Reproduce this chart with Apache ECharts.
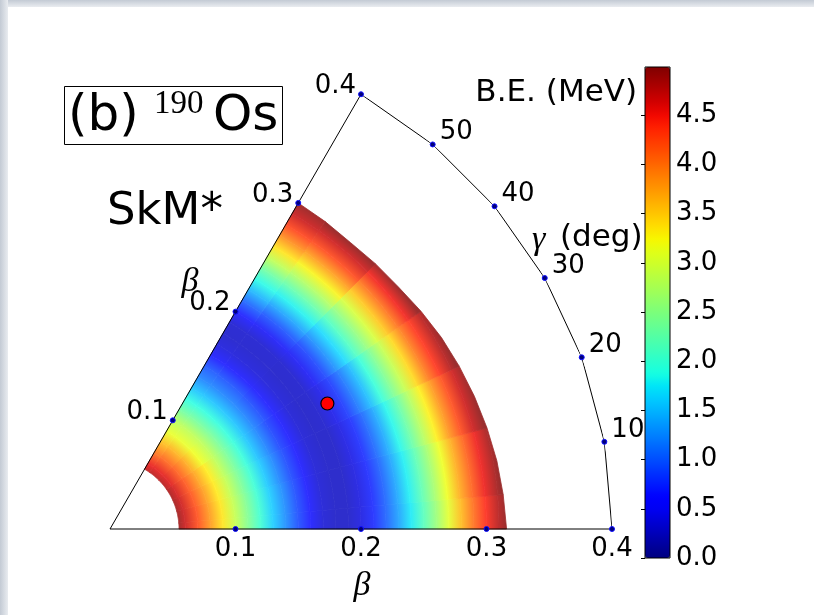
<!DOCTYPE html>
<html>
<head>
<meta charset="utf-8">
<script src="https://cdn.jsdelivr.net/npm/echarts@6/dist/echarts.min.js"></script>
<style>
html, body { margin: 0; padding: 0; background: #fff; }
#edgeTop { position: absolute; left: 0; top: 0; width: 814px; height: 7px; background: linear-gradient(#c3cad4, #e9ecf0); }
#edgeLeft { position: absolute; left: 0; top: 0; width: 8px; height: 615px; background: linear-gradient(90deg, #c3cad4, #e9ecf0); }
#chart { position: absolute; left: 0; top: 0; width: 814px; height: 615px; }
</style>
</head>
<body>
<div id="edgeTop"></div>
<div id="edgeLeft"></div>
<div id="chart"></div>
<script>
// rays of the beta-gamma plane (deg) and beta samples along each ray
const gammaDeg = [0, 10, 20, 30, 40, 50, 60];
const betaSamples = [0.055, 0.06, 0.07, 0.08, 0.09, 0.10, 0.11, 0.12, 0.13, 0.14, 0.15, 0.16, 0.17, 0.18,
  0.19, 0.20, 0.21, 0.22, 0.23, 0.24, 0.25, 0.26, 0.27, 0.28, 0.29, 0.30, 0.31];

// B.E. (MeV) read along each ray, starting at beta = 0.055
const energyG0 = [4.9, 4.7, 4.25, 3.8, 3.35, 2.9, 2.45, 2.0, 1.6, 1.25, 0.9, 0.55, 0.35, 0.28, 0.28, 0.4, 0.7, 1.0, 1.35, 1.75, 2.15, 2.6, 3.1, 3.6, 4.05, 4.45, 4.8];
const energyG10 = [4.9, 4.7, 4.25, 3.8, 3.35, 2.9, 2.45, 2.0, 1.6, 1.25, 0.9, 0.55, 0.35, 0.28, 0.28, 0.4, 0.7, 1.0, 1.37, 1.78, 2.2, 2.67, 3.18, 3.68, 4.12, 4.52, 4.87];
const energyG20 = [4.88, 4.68, 4.22, 3.78, 3.32, 2.88, 2.42, 1.98, 1.58, 1.22, 0.88, 0.55, 0.35, 0.28, 0.28, 0.42, 0.72, 1.03, 1.4, 1.83, 2.28, 2.78, 3.28, 3.8, 4.25, 4.68];
const energyG30 = [4.85, 4.65, 4.2, 3.75, 3.3, 2.85, 2.4, 1.95, 1.55, 1.2, 0.86, 0.55, 0.35, 0.28, 0.3, 0.45, 0.78, 1.12, 1.5, 1.95, 2.42, 2.9, 3.42, 3.95, 4.4, 4.8];
const energyG40 = [4.8, 4.6, 4.15, 3.7, 3.2, 2.85, 2.38, 1.93, 1.55, 1.2, 0.9, 0.56, 0.36, 0.29, 0.31, 0.5, 0.85, 1.25, 1.67, 2.1, 2.55, 3.02, 3.52, 4.02, 4.5];
const energyG50 = [4.78, 4.57, 4.1, 3.65, 3.15, 2.85, 2.37, 1.92, 1.55, 1.2, 0.93, 0.57, 0.37, 0.3, 0.32, 0.52, 0.92, 1.36, 1.8, 2.25, 2.75, 3.25, 3.77, 4.27, 4.68];
const energyG60 = [4.75, 4.55, 4.05, 3.6, 3.15, 2.85, 2.35, 1.9, 1.55, 1.2, 0.95, 0.58, 0.38, 0.3, 0.32, 0.55, 1.0, 1.45, 1.85, 2.3, 2.85, 3.35, 3.85, 4.3, 4.7];
const energyByGamma = [energyG0, energyG10, energyG20, energyG30, energyG40, energyG50, energyG60];

// outer edge of the computed region on each ray
const betaEdge = [0.316, 0.313, 0.309, 0.305, 0.300, 0.298, 0.300];
const energyEdge = [4.97, 4.97, 4.97, 4.97, 4.97, 4.97, 4.95];

const minimumPoint = [0.2, 30];
const betaTicks = [0.1, 0.2, 0.3, 0.4];
const gammaTicks = [10, 20, 30, 40, 50];
const frameGamma = [0, 10, 20, 30, 40, 50, 60];
const E_MAX = 4.99;

const SANS = "'DejaVu Sans', sans-serif";
const SERIF = "'Liberation Serif', serif";

// matplotlib jet
function jet(t) {
  t = Math.max(0, Math.min(1, t));
  const seg = pts => {
    for (let i = 0; i < pts.length - 1; i++) {
      if (t <= pts[i + 1][0]) {
        const f = (t - pts[i][0]) / (pts[i + 1][0] - pts[i][0]);
        return pts[i][1] + f * (pts[i + 1][1] - pts[i][1]);
      }
    }
    return pts[pts.length - 1][1];
  };
  return [
    seg([[0, 0], [0.35, 0], [0.66, 1], [0.89, 1], [1, 0.5]]),
    seg([[0, 0], [0.125, 0], [0.375, 1], [0.64, 1], [0.91, 0], [1, 0]]),
    seg([[0, 0.5], [0.11, 1], [0.34, 1], [0.65, 0], [1, 0]])
  ];
}
const toRgb = (c, a) => 'rgb(' + c.map(v => Math.round(255 * (a * v + 1 - a))).join(',') + ')';
// surface is drawn semi-transparent over white
const shade = e => toRgb(jet(e / E_MAX), 0.82);
const jetColors = Array.from({ length: 41 }, (_, i) => toRgb(jet(i / 40), 1));

// band items: [beta0, gamma, beta1, E0, E1, rayIndex, isLast]
const bands = [];
gammaDeg.forEach((g, j) => {
  const vals = energyByGamma[j];
  const pts = vals.map((e, k) => [betaSamples[k], e]).concat([[betaEdge[j], energyEdge[j]]]);
  for (let k = 0; k < pts.length - 1; k++) {
    bands.push([pts[k][0], g, pts[k + 1][0], pts[k][1], pts[k + 1][1], j, k === pts.length - 2 ? 1 : 0]);
  }
});

function renderBand(params, api) {
  const b0 = api.value(0), g = api.value(1), b1 = api.value(2);
  const e0 = api.value(3), e1 = api.value(4), j = api.value(5), last = api.value(6);
  const gLo = Math.max(0, g - 5), gHi = Math.min(60, g + 5);
  const c = api.coord([0, 0]);
  const dist = p => Math.hypot(p[0] - c[0], p[1] - c[1]);
  const R0 = dist(api.coord([b0, g]));
  const R1 = dist(api.coord([b1, g]));
  const pts = [];
  for (let a = gLo; a <= gHi + 1e-9; a += 1) pts.push(api.coord([b0, a]));
  if (last) {
    const lo = j > 0 ? (betaEdge[j - 1] + betaEdge[j]) / 2 : betaEdge[j];
    const hi = j < gammaDeg.length - 1 ? (betaEdge[j + 1] + betaEdge[j]) / 2 : betaEdge[j];
    pts.push(api.coord([hi, gHi]));
    pts.push(api.coord([b1, g]));
    pts.push(api.coord([lo, gLo]));
  } else {
    for (let a = gHi; a >= gLo - 1e-9; a -= 1) pts.push(api.coord([b1, a]));
  }
  const fill = new echarts.graphic.RadialGradient(c[0], c[1], R1, [
    { offset: R0 / R1, color: shade(e0) },
    { offset: 1, color: shade(e1) }
  ], true);
  return {
    type: 'polygon',
    shape: { points: pts },
    style: { fill: fill, stroke: fill, lineWidth: 0.8 }
  };
}

const framePts = [[0, 0]].concat(frameGamma.map(g => [0.4, g])).concat([[0, 60]]);
const dotStyle = { color: '#00007a', borderColor: '#1010ff', borderWidth: 1, opacity: 1 };
const tickLabel = { show: true, fontSize: 26, color: '#000', opacity: 1, fontFamily: SANS };

const chart = echarts.init(document.getElementById('chart'));
chart.setOption({
  animation: false,
  textStyle: { fontFamily: SANS },
  polar: { center: [110, 529], radius: 502 },
  angleAxis: {
    type: 'value', min: 0, max: 360, startAngle: 0, clockwise: false,
    axisLine: { show: false }, axisTick: { show: false }, axisLabel: { show: false }, splitLine: { show: false }
  },
  radiusAxis: {
    type: 'value', min: 0, max: 0.4,
    axisLine: { show: false }, axisTick: { show: false }, axisLabel: { show: false }, splitLine: { show: false }
  },
  grid: {
    left: 645, top: 67, width: 25, height: 491, show: true,
    borderColor: '#000', borderWidth: 1, backgroundColor: 'transparent', z: 10
  },
  xAxis: { gridIndex: 0, type: 'value', min: 0, max: 1, show: false },
  yAxis: {
    gridIndex: 0, type: 'value', min: 0, max: E_MAX, interval: 0.5, position: 'right', z: 10,
    axisLine: { show: false },
    axisTick: { show: true, inside: true, length: 4, lineStyle: { color: '#000', width: 1 } },
    axisLabel: { fontSize: 26, color: '#000', margin: 6, fontFamily: SANS, showMaxLabel: false, formatter: v => v.toFixed(1) },
    splitLine: { show: false }
  },
  visualMap: {
    type: 'continuous', min: 0, max: E_MAX, seriesIndex: 0, dimension: 3,
    left: 645, top: 67, itemWidth: 25, itemHeight: 491, padding: 0,
    calculable: false, hoverLink: false, text: null,
    inRange: { color: jetColors }
  },
  graphic: [
    { type: 'rect', shape: { x: 64.5, y: 86.5, width: 218, height: 58 }, style: { fill: 'none', stroke: '#000', lineWidth: 1 } },
    { type: 'text', x: 68, y: 117, style: { text: '(b)', font: '50px ' + SANS, fill: '#000', textVerticalAlign: 'middle' } },
    { type: 'text', x: 154, y: 104, style: { text: '190', font: '33px ' + SERIF, fill: '#000', textVerticalAlign: 'middle' } },
    { type: 'text', x: 213, y: 117, style: { text: 'Os', font: '50px ' + SANS, fill: '#000', textVerticalAlign: 'middle' } },
    { type: 'text', x: 107, y: 212, style: { text: 'SkM*', font: '45px ' + SANS, fill: '#000', textVerticalAlign: 'middle' } },
    { type: 'text', x: 637, y: 93, style: { text: 'B.E. (MeV)', font: '31px ' + SANS, fill: '#000', textAlign: 'right', textVerticalAlign: 'middle' } },
    { type: 'text', x: 532, y: 240, style: { text: 'γ', font: 'italic 34px ' + SERIF, fill: '#000', textVerticalAlign: 'middle' } },
    { type: 'text', x: 560, y: 238, style: { text: '(deg)', font: '31px ' + SANS, fill: '#000', textVerticalAlign: 'middle' } },
    { type: 'text', x: 190, y: 282, style: { text: 'β', font: 'italic 34px ' + SERIF, fill: '#000', textAlign: 'center', textVerticalAlign: 'middle' } },
    { type: 'text', x: 362, y: 586, style: { text: 'β', font: 'italic 34px ' + SERIF, fill: '#000', textAlign: 'center', textVerticalAlign: 'middle' } }
  ],
  series: [
    {
      type: 'custom', coordinateSystem: 'polar', data: bands, renderItem: renderBand, z: 1, silent: true
    },
    {
      type: 'line', coordinateSystem: 'polar', data: framePts, symbol: 'none', z: 3, silent: true,
      lineStyle: { color: '#000', width: 1 }
    },
    {
      type: 'scatter', coordinateSystem: 'polar', data: betaTicks.map(b => [b, 0]), symbolSize: 5, z: 4, silent: true,
      itemStyle: dotStyle,
      label: Object.assign({ position: 'bottom', distance: 4, formatter: p => p.value[0].toFixed(1) }, tickLabel)
    },
    {
      type: 'scatter', coordinateSystem: 'polar', data: betaTicks.map(b => [b, 60]), symbolSize: 5, z: 4, silent: true,
      itemStyle: dotStyle,
      label: Object.assign({ position: 'left', distance: 2, offset: [0, -8], formatter: p => p.value[0].toFixed(1) }, tickLabel)
    },
    {
      type: 'scatter', coordinateSystem: 'polar', data: gammaTicks.map(g => [0.4, g]), symbolSize: 5, z: 4, silent: true,
      itemStyle: dotStyle,
      label: Object.assign({ position: 'right', distance: 4, offset: [0, -12], formatter: p => String(p.value[1]) }, tickLabel)
    },
    {
      type: 'scatter', coordinateSystem: 'polar', data: [minimumPoint], symbolSize: 13, z: 5, silent: true,
      itemStyle: { color: '#ff0000', borderColor: '#000', borderWidth: 1.2, opacity: 1 }
    }
  ]
});
</script>
</body>
</html>
